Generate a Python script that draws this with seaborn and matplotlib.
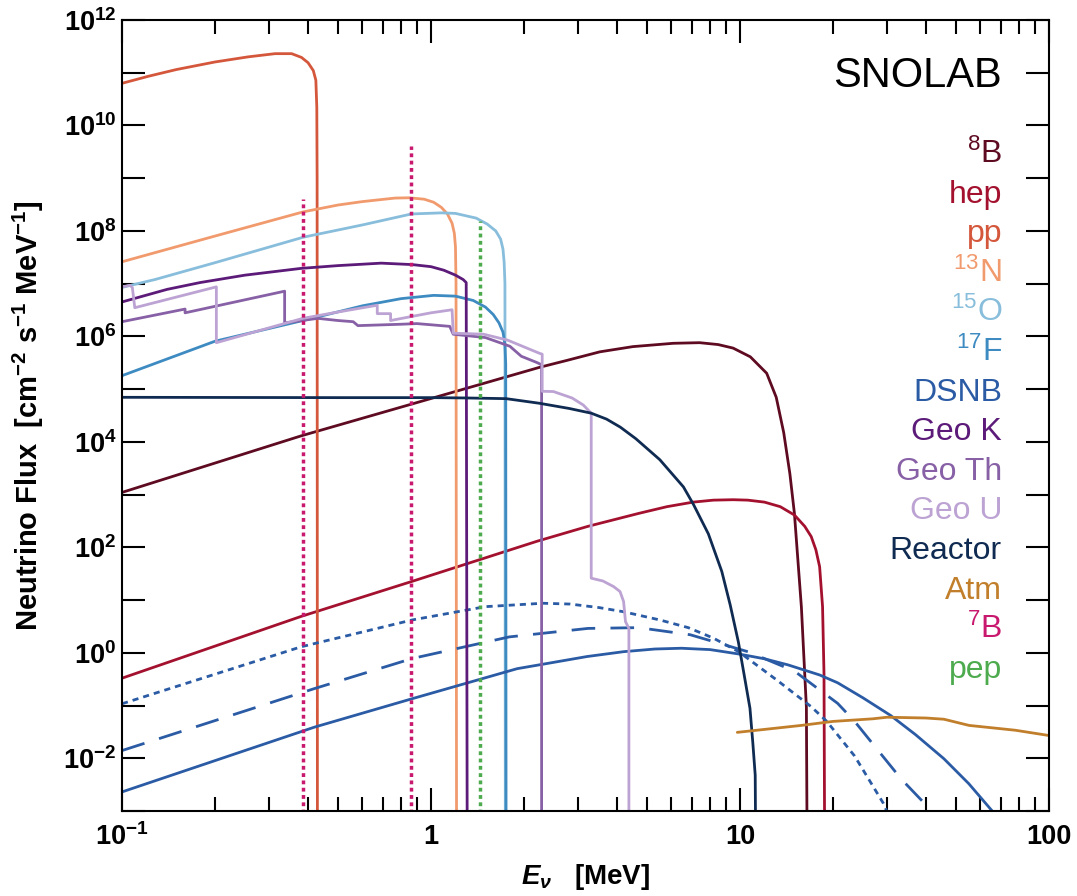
import numpy as np
import matplotlib
matplotlib.use("Agg")
import matplotlib.pyplot as plt
import seaborn as sns
from matplotlib.ticker import LogLocator, NullFormatter, NullLocator

# ---------------- data ----------------
b8_E = [0.1, 0.38, 0.794, 2.25, 2.75, 3.52, 4.5, 6.08, 7.4, 8.5, 9.5, 10.8, 12.2, 13.1, 13.85,
        14.5, 15.0, 15.8, 16.4, 16.5]
b8_F = [1.1e3, 1.3e4, 4.5e4, 2.6e5, 3.5e5, 5.1e5, 6.4e5, 7.4e5, 7.6e5, 7.0e5, 6.0e5, 4.1e5, 2.0e5,
        7e4, 1.5e4, 2.5e3, 4.4e2, 7.4, 0.093, 1e-4]

hep_E = [0.1, 0.38, 0.868, 2.2, 3.22, 4.7, 5.8, 7.05, 8.2, 9.5, 10.6, 12.0, 13.5, 15.0, 16.2, 17.0,
         17.6, 18.1, 18.5, 18.7, 18.8]
hep_F = [0.33, 4.9, 22.6, 130, 250, 440, 590, 720, 785, 800, 785, 720, 590, 410, 250, 160, 90, 43,
         7.5, 0.4, 1e-4]

pp_E = [0.1, 0.122, 0.15, 0.2, 0.256, 0.313, 0.354, 0.381, 0.40, 0.416, 0.424, 0.427, 0.428, 0.429]
pp_F = [6.3e10, 8.6e10, 1.15e11, 1.6e11, 2.0e11, 2.3e11, 2.3e11, 1.95e11, 1.55e11, 1.1e11, 7.2e10,
        2.2e10, 1e9, 1e-4]

n13_E = [0.1, 0.2, 0.386, 0.5, 0.6, 0.765, 0.85, 0.95, 1.02, 1.08, 1.13, 1.17, 1.19, 1.20, 1.205,
         1.21]
n13_F = [2.6e7, 8e7, 2.3e8, 3.1e8, 3.6e8, 4.2e8, 4.25e8, 4.0e8, 3.5e8, 2.8e8, 2.1e8, 1.4e8, 9e7,
         5e7, 1e7, 1e-4]

o15_E = [0.1, 0.128, 0.2, 0.386, 0.6, 0.865, 1.08, 1.2, 1.4, 1.52, 1.62, 1.68, 1.71, 1.725, 1.735,
         1.74]
o15_F = [8.5e6, 1.2e7, 2.5e7, 7.6e7, 1.3e8, 2.1e8, 2.2e8, 2.15e8, 1.75e8, 1.35e8, 1.0e8, 7e7, 4.5e7,
         2.5e7, 1e7, 1e-4]

f17_E = [0.1, 0.2, 0.385, 0.6, 0.8, 1.02, 1.2, 1.37, 1.5, 1.59, 1.66, 1.71, 1.735, 1.745, 1.75]
f17_F = [1.8e5, 8.1e5, 2.0e6, 3.8e6, 5.2e6, 6.0e6, 5.8e6, 4.8e6, 3.6e6, 2.6e6, 1.8e6, 1.2e6, 7e5,
         3e5, 1e-4]

dsnb_E = [0.1, 0.42, 0.87, 1.9, 2.2, 3.2, 4.2, 5.3, 6.46, 8.0, 9.9, 12.0, 14.3, 18.1, 20.7, 25.0,
          30.7, 37.0, 45.7, 55.0, 65.5, 70.0]
dsnb_F = [2.3e-3, 0.039, 0.135, 0.5, 0.58, 0.85, 1.05, 1.18, 1.22, 1.15, 0.95, 0.77, 0.59, 0.38,
          0.27, 0.14, 0.065, 0.028, 9.8e-3, 3.3e-3, 1e-3, 5e-4]

dsnb_hi_E = [0.1, 0.38, 0.87, 1.5, 2.3, 2.82, 3.5, 4.2, 5.5, 6.8, 8.2, 9.9, 13.3, 17.0, 19.1, 23.5,
             29.1, 31.0]
dsnb_hi_F = [0.108, 1.3, 4.2, 7.5, 8.7, 8.4, 7.2, 6.0, 4.2, 3.0, 1.9, 1.05, 0.29, 0.095, 0.05, 0.011,
             1.4e-3, 6e-4]

dsnb_mid_E = [0.1, 0.42, 0.87, 1.79, 3.22, 4.7, 6.9, 10.6, 15.0, 20.7, 23.5, 28.0, 33.3, 40.0, 43.0]
dsnb_mid_F = [0.014, 0.21, 0.78, 2.0, 2.9, 3.0, 2.2, 1.05, 0.45, 0.11, 0.05, 0.014, 4e-3, 1.3e-3,
              7e-4]

geok_E = [0.1, 0.14, 0.179, 0.25, 0.38, 0.5, 0.69, 0.87, 1.0, 1.1, 1.2, 1.27, 1.30, 1.31]
geok_F = [4.5e6, 7.8e6, 1.05e7, 1.45e7, 1.95e7, 2.2e7, 2.45e7, 2.3e7, 2.1e7, 1.8e7, 1.45e7, 1.2e7,
          1.05e7, 1e-4]

geoth_E = [0.1, 0.16, 0.16, 0.336, 0.336, 0.43, 0.5, 0.56, 0.58, 0.8, 0.9, 1.15, 1.18, 1.5, 1.8,
           1.96, 2.2, 2.28, 2.28]
geoth_F = [1.9e6, 3.3e6, 2.8e6, 7.2e6, 1.8e6, 2.2e6, 2.0e6, 1.9e6, 1.6e6, 1.7e6, 1.75e6, 1.55e6, 1.1e6,
           9.5e5, 6.5e5, 4.2e5, 3.2e5, 2.9e5, 1e-4]

geou_E = [0.1, 0.106, 0.108, 0.11, 0.202, 0.202, 0.385, 0.5, 0.67, 0.67, 0.74, 0.74, 0.87, 1.0, 1.17,
          1.18, 1.48, 1.77, 2.24, 2.29, 2.29, 2.49, 2.86, 3.11, 3.3, 3.3, 3.6, 3.9, 4.09, 4.2, 4.26,
          4.37, 4.37]
geou_F = [8.7e6, 9.3e6, 8.5e6, 3.5e6, 8.7e6, 7.6e5, 2.2e6, 2.9e6, 3.9e6, 2.7e6, 2.7e6, 2.0e6, 2.4e6,
          2.8e6, 3.2e6, 1.15e6, 1.1e6, 8.5e5, 4.8e5, 4.6e5, 9.1e4, 9.0e4, 6.8e4, 5.0e4, 3.5e4, 26, 23,
          18, 14.5, 9.4, 3.9, 2.9, 1e-4]

reac_E = [0.1, 0.5, 1.0, 1.3, 1.75, 2.24, 2.8, 3.3, 3.7, 4.1, 4.6, 5.5, 6.56, 7.07, 7.9, 8.73, 9.3,
          9.88, 10.3, 10.77, 11.0, 11.2, 11.25]
reac_F = [7.0e4, 6.9e4, 6.9e4, 6.8e4, 6.6e4, 5.4e4, 4.3e4, 3.5e4, 2.7e4, 1.9e4, 1.15e4, 4.6e3,
          1.4e3, 650, 180, 35, 8, 1.6, 0.4, 0.089, 0.02, 4.8e-3, 1e-4]

atm_E = [9.8, 15.8, 20.0, 26.9, 29.9, 40.0, 45.7, 55.1, 77.8, 100.0]
atm_F = [0.031, 0.042, 0.05, 0.056, 0.06, 0.058, 0.055, 0.042, 0.034, 0.027]

be7_E1 = [0.384, 0.384]
be7_F1 = [1e-4, 4.0e8]
be7_E2 = [0.862, 0.862]
be7_F2 = [1e-4, 4.0e9]
pep_E = [1.44, 1.44]
pep_F = [1e-4, 1.55e8]

legend_labels = ["$^{8}$B", "hep", "pp", "$^{13}$N", "$^{15}$O", "$^{17}$F", "DSNB", "Geo K",
                 "Geo Th", "Geo U", "Reactor", "Atm", "$^{7}$B", "pep"]
x_tick_values = [0.1, 1, 10, 100]
x_tick_labels = [r"$\mathdefault{10^{-1}}$", "1", "10", "100"]
y_exponents = list(range(-3, 13))

# ---------------- style ----------------
sns.set_theme(style="ticks")
plt.rcParams.update({
    "font.family": ["Liberation Sans", "DejaVu Sans"],
    "mathtext.fontset": "custom",
    "mathtext.rm": "Liberation Sans",
    "mathtext.it": "Liberation Sans:italic:bold",
    "mathtext.bf": "Liberation Sans:bold",
    "mathtext.default": "regular",
    "axes.linewidth": 1.5,
    "axes.edgecolor": "black",
    "text.color": "black",
    "axes.labelcolor": "black",
    "xtick.color": "black",
    "ytick.color": "black",
})

C = {
    "8B": "#5E0B22", "hep": "#A3112F", "pp": "#D4573C", "13N": "#F19A6D",
    "15O": "#88BEDC", "17F": "#3E8BC2", "DSNB": "#2A5BA4", "GeoK": "#5C1A79",
    "GeoTh": "#8760A6", "GeoU": "#BCA3D3", "Reactor": "#102B52", "Atm": "#C17F2C",
    "7B": "#C8196F", "pep": "#4DAB4E",
}
label_colors = [C["8B"], C["hep"], C["pp"], C["13N"], C["15O"], C["17F"], C["DSNB"], C["GeoK"],
                C["GeoTh"], C["GeoU"], C["Reactor"], C["Atm"], C["7B"], C["pep"]]

fig = plt.figure(figsize=(10.77, 8.96), dpi=100)
W, H = 1077, 896
L, R, T, B = 122, 1049, 20, 811
ax = fig.add_axes([L / W, 1 - B / H, (R - L) / W, (B - T) / H])
ax.set_xscale("log")
ax.set_yscale("log")

LW = 2.0


def line(E, F, color, lw=LW, ls="-"):
    sns.lineplot(x=E, y=F, ax=ax, color=color, lw=lw, linestyle=ls,
                 sort=False, estimator=None)


line(b8_E, b8_F, C["8B"])
line(hep_E, hep_F, C["hep"])
line(pp_E, pp_F, C["pp"])
line(n13_E, n13_F, C["13N"])
line(o15_E, o15_F, C["15O"])
line(f17_E, f17_F, C["17F"])
line(dsnb_E, dsnb_F, C["DSNB"])
line(dsnb_mid_E, dsnb_mid_F, C["DSNB"], ls=(0, (8.5, 5.5)))
line(dsnb_hi_E, dsnb_hi_F, C["DSNB"], ls=(0, (2.2, 1.8)))
line(geok_E, geok_F, C["GeoK"])
line(geoth_E, geoth_F, C["GeoTh"])
line(geou_E, geou_F, C["GeoU"])
line(reac_E, reac_F, C["Reactor"])
line(atm_E, atm_F, C["Atm"])
line(be7_E1, be7_F1, C["7B"], lw=2.5, ls=(0, (1.1, 1.0)))
line(be7_E2, be7_F2, C["7B"], lw=2.5, ls=(0, (1.1, 1.0)))
line(pep_E, pep_F, C["pep"], lw=2.5, ls=(0, (1.1, 1.0)))

ax.set_xlim(0.1, 100)
ax.set_ylim(1e-3, 1e12)

ax.set_xticks(x_tick_values, labels=x_tick_labels)
ax.xaxis.set_minor_locator(LogLocator(base=10, subs=np.arange(2, 10)))
ax.xaxis.set_minor_formatter(NullFormatter())
ax.set_yticks([10.0 ** e for e in y_exponents],
              labels=[(r"$\mathdefault{10^{%d}}$" % e) if e % 2 == 0 else "" for e in y_exponents])
ax.yaxis.set_minor_locator(NullLocator())

ax.tick_params(which="both", direction="in", top=True, right=True, width=1.5, colors="black",
               labelsize=19.5)
ax.tick_params(axis="x", which="major", length=16.5, pad=9)
ax.tick_params(axis="x", which="minor", length=10)
ax.tick_params(axis="y", which="major", length=16.5, pad=4)
for lab in ax.get_xticklabels() + ax.get_yticklabels():
    lab.set_fontweight("bold")

ax.set_ylabel("Neutrino Flux  [cm$^{-2}$ s$^{-1}$ MeV$^{-1}$]", fontsize=21, fontweight="bold")
ax.yaxis.set_label_coords((46 - L) / (R - L), 0.5)
ax.set_xlabel(r"$\mathit{E_{\nu}}$   [MeV]", fontsize=20, fontweight="bold")
ax.xaxis.set_label_coords(0.5, -(862 - B) / (B - T))

xr = (1002 - L) / (R - L)
ax.text(xr, (B - 87) / (B - T), "SNOLAB", transform=ax.transAxes, ha="right", va="baseline",
        fontsize=30, color="black")
for i, (lab, col) in enumerate(zip(legend_labels, label_colors)):
    yb = 163 + i * 39.6
    ax.text(xr, (B - yb) / (B - T), lab, transform=ax.transAxes, ha="right", va="baseline",
            fontsize=23, color=col)

fig.savefig("out.png", dpi=100)
